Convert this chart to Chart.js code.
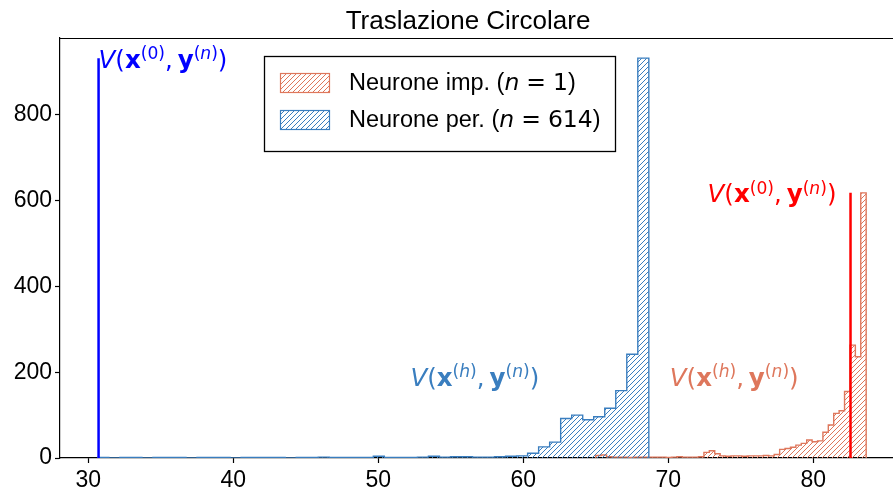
<!DOCTYPE html>
<html>
<head>
<meta charset="utf-8">
<script src="https://cdn.jsdelivr.net/npm/chart.js@4.4.1/dist/chart.umd.min.js"></script>
<style>
  html, body { margin: 0; padding: 0; background: #fff; }
  #wrap { width: 893px; height: 492px; position: relative; }
</style>
</head>
<body>
<div id="wrap"><canvas id="c"></canvas></div>
<script>
// ---- data ---------------------------------------------------------------
const chartTitle = 'Traslazione Circolare';
const seriesNames = ['Neurone imp.', 'Neurone per.'];
const neuronCounts = ['1', '614'];

// histogram of V(x^(h), y^(n)) for the perturbed neurons (50 bins)
const perBinStart = 30.66;
const perBinWidth = 0.76;
const perCounts = [
  1, 0, 1, 1, 0, 1, 1, 1, 0, 1,
  1, 1, 0, 1, 1, 1, 1, 0, 1, 1,
  2, 1, 1, 1, 1, 4, 1, 1, 1, 2,
  4, 2, 3, 3, 2, 2, 3, 4, 5, 11,
  26, 37, 92, 100, 89, 96, 116, 157, 242, 932
];

// histogram of V(x^(h), y^(n)) for the imposed neuron (50 bins)
const impBinStart = 65.0;
const impBinWidth = 0.373;
const impCounts = [
  6, 7, 3, 2, 2, 2, 1, 2, 2, 2,
  2, 2, 2, 1, 2, 3, 2, 2, 2, 3,
  13, 17, 10, 5, 4, 5, 5, 4, 5, 5,
  5, 6, 5, 8, 20, 22, 25, 30, 34, 42,
  38, 40, 60, 77, 104, 110, 155, 263, 236, 618
];

// V(x^(0), y^(n)) reference values
const perV0 = 30.71;
const impV0 = 82.57;

const xTickValues = [30, 40, 50, 60, 70, 80];
const yTickValues = [0, 200, 400, 600, 800];

// ---- styling --------------------------------------------------------------
const FONT = "'Liberation Sans', Arial, Helvetica, sans-serif";
const MATH = "'DejaVu Sans', sans-serif";
const BLUE = '#3a7ebf';
const SALMON = '#de775c';
const PURE_BLUE = '#0000ff';
const PURE_RED = '#ff0000';

function hatch(color, size = 5, lw = 1) {
  const c = document.createElement('canvas');
  c.width = c.height = size;
  const g = c.getContext('2d');
  g.strokeStyle = color;
  g.lineWidth = lw;
  g.beginPath();
  g.moveTo(0, size); g.lineTo(size, 0);
  g.moveTo(-size / 2, size / 2); g.lineTo(size / 2, -size / 2);
  g.moveTo(size / 2, size * 1.5); g.lineTo(size * 1.5, size / 2);
  g.stroke();
  return g.createPattern(c, 'repeat');
}

// step outline for a histogram: one point per bin edge
function stepPoints(start, width, counts) {
  const pts = [{ x: start, y: 0 }];
  counts.forEach((c, i) => pts.push({ x: start + i * width, y: c }));
  pts.push({ x: start + counts.length * width, y: 0 });
  return pts;
}

const perPeak = Math.max(...perCounts);
const impPeak = Math.max(...impCounts);

// text made of runs in different styles (mathtext-like)
// run: [text, style, family]; style 'sp' is a blank advance of text*size
function drawRuns(ctx, runs, x, yBase, align, color, size) {
  const fontFor = (st, sz, fam) =>
    (st.includes('i') ? 'italic ' : '') + (st.includes('b') ? 'bold ' : '') + sz + 'px ' + fam;
  let total = 0;
  const items = runs.map(([t, st, fam]) => {
    fam = fam || MATH;
    if (st === 'sp') {
      const w = t * size;
      total += w;
      return { t: '', st, sz: size, w, dy: 0, fam };
    }
    const sup = st.startsWith('s');
    const sz = sup ? size * 0.7 : size;
    ctx.font = fontFor(st, sz, fam);
    const w = ctx.measureText(t).width;
    total += w;
    return { t, st, sz, w, dy: sup ? -0.36 * size : 0, fam };
  });
  let cx = align === 'right' ? x - total : align === 'center' ? x - total / 2 : x;
  ctx.fillStyle = color;
  ctx.textBaseline = 'alphabetic';
  ctx.textAlign = 'left';
  items.forEach(it => {
    if (it.t) {
      ctx.font = fontFor(it.st, it.sz, it.fam);
      ctx.fillText(it.t, cx, yBase + it.dy);
    }
    cx += it.w;
  });
}

const mathV = (h) => [
  ['V', 'i'], ['(', 'r'], ['x', 'b'], ['(', 'sr'],
  h === '0' ? ['0', 'sr'] : ['h', 'si'],
  [')', 'sr'], [',', 'r'], [0.2, 'sp'], ['y', 'b'],
  ['(', 'sr'], ['n', 'si'], [')', 'sr'], [')', 'r']
];

const annotations = [
  { runs: mathV('0'), x: perV0, y: perPeak, align: 'left', color: PURE_BLUE },
  { runs: mathV('0'), x: 81.6, y: impPeak, align: 'right', color: PURE_RED },
  { runs: mathV('h'), x: 56.66, y: 190, align: 'center', color: BLUE },
  { runs: mathV('h'), x: 74.55, y: 190, align: 'center', color: SALMON }
];

const decorations = {
  id: 'decorations',
  afterDatasetsDraw(chart) {
    const { ctx, chartArea: a, scales: { x, y } } = chart;
    ctx.save();
    // top spine
    ctx.strokeStyle = '#000';
    ctx.lineWidth = 1.2;
    ctx.beginPath();
    ctx.moveTo(a.left, a.top + 0.5);
    ctx.lineTo(a.right, a.top + 0.5);
    ctx.stroke();

    // annotations
    annotations.forEach(an => {
      drawRuns(ctx, an.runs, x.getPixelForValue(an.x), y.getPixelForValue(an.y) + 9.5,
               an.align, an.color, 24.5);
    });

    // legend
    const L = a.left + 204, T = a.top + 18, W = 351, H = 95;
    ctx.fillStyle = '#fff';
    ctx.fillRect(L, T, W, H);
    ctx.strokeStyle = '#000';
    ctx.lineWidth = 1.3;
    ctx.strokeRect(L + 0.5, T + 0.5, W, H);
    const colors = [SALMON, BLUE];
    colors.forEach((col, i) => {
      const py = T + 17 + i * 37;
      ctx.fillStyle = hatch(col);
      ctx.fillRect(L + 16, py, 49, 19);
      ctx.strokeStyle = col;
      ctx.lineWidth = 1.2;
      ctx.strokeRect(L + 16.5, py + 0.5, 49, 19);
      drawRuns(ctx, [[seriesNames[i] + ' (', 'r', FONT], ['n', 'i'], [0.3, 'sp'], ['=', 'r'],
                     [0.3, 'sp'], [neuronCounts[i], 'r'], [')', 'r', FONT]],
               L + 85, py + 17, 'left', '#000', 23.5);
    });

    // title
    ctx.fillStyle = '#000';
    ctx.font = '26px ' + FONT;
    ctx.textAlign = 'center';
    ctx.textBaseline = 'alphabetic';
    ctx.fillText(chartTitle, 468, 29);
    ctx.restore();
  }
};

const axisCommon = {
  grid: { drawOnChartArea: false, drawTicks: true, tickLength: 5, color: '#000', tickWidth: 1.2 },
  border: { display: true, color: '#000', width: 1.2 },
};

new Chart(document.getElementById('c'), {
  type: 'line',
  data: {
    datasets: [
      {
        label: 'V0 per',
        data: [{ x: perV0, y: 0 }, { x: perV0, y: perPeak }],
        borderColor: PURE_BLUE, borderWidth: 2.5, pointRadius: 0, fill: false
      },
      {
        label: 'V0 imp',
        data: [{ x: impV0, y: 0 }, { x: impV0, y: impPeak }],
        borderColor: PURE_RED, borderWidth: 2.5, pointRadius: 0, fill: false
      },
      {
        label: seriesNames[1],
        data: stepPoints(perBinStart, perBinWidth, perCounts),
        borderColor: BLUE, borderWidth: 1.4, pointRadius: 0,
        stepped: 'before', fill: 'origin', backgroundColor: hatch(BLUE)
      },
      {
        label: seriesNames[0],
        data: stepPoints(impBinStart, impBinWidth, impCounts),
        borderColor: SALMON, borderWidth: 1.4, pointRadius: 0,
        stepped: 'before', fill: 'origin', backgroundColor: hatch(SALMON)
      }
    ]
  },
  options: {
    responsive: true,
    maintainAspectRatio: false,
    animation: false,
    devicePixelRatio: 1,
    layout: { padding: { top: 38, left: 0, right: 0, bottom: 0 } },
    plugins: { legend: { display: false }, tooltip: { enabled: false }, title: { display: false } },
    scales: {
      x: {
        type: 'linear', min: 28.05, max: 85.5,
        afterBuildTicks: s => { s.ticks = xTickValues.map(v => ({ value: v })); },
        afterFit: s => { s.height = 34; },
        ...axisCommon,
        ticks: { color: '#000', font: { family: FONT, size: 23 }, padding: 4, maxRotation: 0, autoSkip: false }
      },
      y: {
        type: 'linear', min: 0, max: 979,
        afterBuildTicks: s => { s.ticks = yTickValues.map(v => ({ value: v })); },
        afterFit: s => { s.width = 60; },
        ...axisCommon,
        ticks: { color: '#000', font: { family: FONT, size: 23 }, padding: 3 }
      }
    }
  },
  plugins: [decorations]
});
</script>
</body>
</html>
